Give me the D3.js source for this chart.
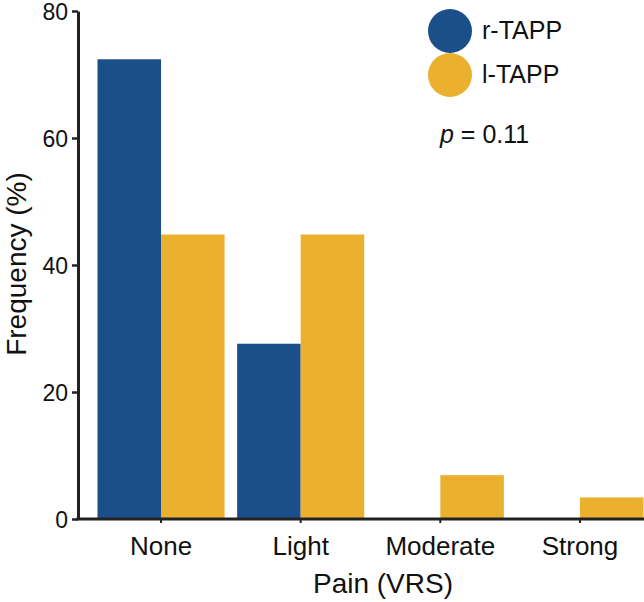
<!DOCTYPE html>
<html>
<head>
<meta charset="utf-8">
<script src="https://cdn.jsdelivr.net/npm/d3@7"></script>
<style>
  body { margin: 0; background: #fff; }
  svg text { font-family: "Liberation Sans", Arial, Helvetica, sans-serif; fill: #111; }
</style>
</head>
<body>
<svg id="chart" width="644" height="602"></svg>
<script>
const categories = ["None", "Light", "Moderate", "Strong"];
const seriesNames = ["r-TAPP", "l-TAPP"];
const rTAPP = [72.4, 27.6, 0, 0];
const lTAPP = [44.8, 44.8, 6.9, 3.4];
const yTicks = [0, 20, 40, 60, 80];
const colors = ["#1b4f8a", "#ebb02d"];

const svg = d3.select("#chart");
const x0 = 78, x1 = 644, yTop = 11, yBot = 519;

const x = d3.scaleBand().domain(categories).range([97.5, 643.5]).paddingInner(0.09).paddingOuter(0);
const xs = d3.scaleBand().domain(seriesNames).range([0, x.bandwidth()]).padding(0);
const y = d3.scaleLinear().domain([0, 80]).range([yBot, yTop]);

const data = categories.map((c, i) => ({ cat: c, vals: [rTAPP[i], lTAPP[i]] }));

// bars
const g = svg.append("g");
data.forEach(d => {
  d.vals.forEach((v, j) => {
    if (v <= 0) return;
    g.append("rect")
      .attr("x", x(d.cat) + xs(seriesNames[j]))
      .attr("y", y(v))
      .attr("width", xs.bandwidth())
      .attr("height", y(0) - y(v))
      .attr("fill", colors[j]);
  });
});

// y axis
const yAxis = svg.append("g").attr("transform", `translate(${x0},0)`)
  .call(d3.axisLeft(y).tickValues(yTicks).tickSize(6).tickPadding(4).tickSizeOuter(0));
yAxis.select(".domain").attr("stroke", "#222").attr("stroke-width", 3);
yAxis.selectAll(".tick line").attr("stroke", "#222").attr("stroke-width", 2.5);
yAxis.selectAll(".tick text").style("font-size", "23px").attr("fill", "#111").attr("dy", "0.36em");

// x axis
const xAxis = svg.append("g").attr("transform", `translate(0,${yBot})`);
xAxis.append("line").attr("x1", x0 - 1.5).attr("x2", x1).attr("y1", 0).attr("y2", 0)
  .attr("stroke", "#222").attr("stroke-width", 3);
const xa = d3.axisBottom(x).tickSize(4).tickPadding(14).tickSizeOuter(0);
const xg = xAxis.append("g").call(xa);
xg.select(".domain").remove();
xg.selectAll(".tick line").attr("stroke", "#222").attr("stroke-width", 2);
xg.selectAll(".tick text").style("font-size", "26px").attr("fill", "#111");

// axis titles
svg.append("text").attr("x", 383).attr("y", 593).attr("text-anchor", "middle")
  .style("font-size", "28px").text("Pain (VRS)");
svg.append("text").attr("transform", "translate(26,264) rotate(-90)").attr("text-anchor", "middle")
  .style("font-size", "28px").text("Frequency (%)");

// legend
const legY = [31, 75];
seriesNames.forEach((s, j) => {
  svg.append("circle").attr("cx", 450).attr("cy", legY[j]).attr("r", 22).attr("fill", colors[j]);
  svg.append("text").attr("x", 482).attr("y", legY[j] + 8).style("font-size", "25px").text(s);
});

// p value
const pt = svg.append("text").attr("x", 440).attr("y", 143).style("font-size", "25px");
pt.append("tspan").style("font-style", "italic").text("p");
pt.append("tspan").text(" = 0.11");
</script>
</body>
</html>
